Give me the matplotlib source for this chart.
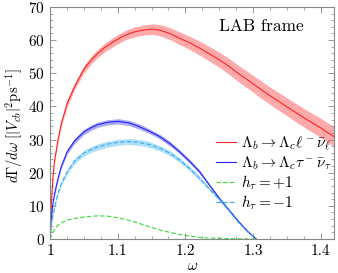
import numpy as np
import matplotlib
matplotlib.use("Agg")
import matplotlib.pyplot as plt
from matplotlib.ticker import MultipleLocator

# ------------ Data ----------------------------------------
w_lep = [1.0, 1.002, 1.0044, 1.0069, 1.0118, 1.0167, 1.0255, 1.0363, 1.05, 1.0608,
         1.0706, 1.081, 1.096, 1.110, 1.125, 1.140, 1.152, 1.162, 1.177, 1.191,
         1.206, 1.221, 1.235, 1.25, 1.265, 1.279, 1.294, 1.309, 1.323, 1.338,
         1.353, 1.368, 1.382, 1.397, 1.42]
rate_lep = [0, 10.8, 18.8, 23.9, 29.9, 34.9, 41.0, 46.0, 51.2, 54.0,
            56.0, 57.8, 59.8, 61.4, 62.5, 63.1, 63.3, 63.0, 62.0, 60.6,
            59.2, 57.6, 55.9, 54.1, 52.0, 49.8, 47.7, 45.5, 43.5, 41.5,
            39.5, 37.5, 35.7, 33.9, 30.8]
err_lep = [0.3, 0.5, 0.6, 0.7, 0.8, 0.9, 1.0, 1.0, 1.1, 1.2,
           1.2, 1.3, 1.4, 1.4, 1.5, 1.5, 1.6, 1.7, 1.8, 1.9,
           2.0, 2.1, 2.2, 2.3, 2.4, 2.5, 2.5, 2.6, 2.6, 2.7,
           2.7, 2.8, 2.8, 2.9, 3.0]

w_tau = [1.0, 1.002, 1.0044, 1.0069, 1.0118, 1.0167, 1.0255, 1.0363, 1.05, 1.0608,
         1.0706, 1.085, 1.101, 1.117, 1.132, 1.147, 1.162, 1.177, 1.191, 1.206,
         1.221, 1.235, 1.25, 1.265, 1.279, 1.294, 1.305]
rate_tau = [0, 6.7, 10.8, 13.8, 18.3, 21.9, 26.4, 29.6, 32.3, 33.6,
            34.5, 35.2, 35.5, 35.0, 33.9, 32.5, 30.9, 28.8, 26.4, 23.5,
            20.3, 16.4, 12.3, 8.6, 5.2, 1.9, 0]
err_tau = [0.1, 0.3, 0.4, 0.5, 0.6, 0.6, 0.7, 0.8, 0.8, 0.8,
           0.8, 0.8, 0.8, 0.8, 0.8, 0.7, 0.7, 0.7, 0.6, 0.6,
           0.5, 0.4, 0.4, 0.3, 0.2, 0.1, 0]
rate_hm = [0, 4.7, 7.3, 9.8, 13.8, 16.8, 20.3, 23.5, 25.9, 27.0,
           27.8, 28.6, 29.2, 29.4, 29.1, 28.5, 27.4, 25.9, 23.9, 21.3,
           18.3, 15.2, 12.0, 8.4, 4.9, 1.7, 0]
err_hm = [0.1, 0.3, 0.4, 0.5, 0.6, 0.7, 0.8, 0.8, 0.9, 0.9,
          0.9, 0.9, 0.9, 0.9, 0.9, 0.9, 0.8, 0.8, 0.7, 0.7,
          0.6, 0.5, 0.4, 0.3, 0.2, 0.1, 0]
rate_hp = [0, 1.2, 2.2, 2.9, 4.2, 4.9, 5.7, 6.2, 6.6, 6.85,
           7.0, 6.9, 6.4, 5.6, 4.7, 3.7, 2.7, 2.0, 1.4, 0.9,
           0.5, 0.3, 0.2, 0.1, 0.05, 0.02, 0]

labels = [r'$\Lambda_b\rightarrow\Lambda_c\ell^-\bar{\nu}_\ell$',
          r'$\Lambda_b\rightarrow\Lambda_c\tau^-\bar{\nu}_\tau$',
          r'$h_\tau=+1$', r'$h_\tau=-1$']

plt.rcParams['font.family'] = 'cmr10'
plt.rcParams['mathtext.fontset'] = 'cm'
plt.rcParams['axes.formatter.use_mathtext'] = True

fig = plt.figure(figsize=(3.38, 2.73), dpi=100)
ax = fig.add_axes([0.148, 0.1245, 0.841, 0.850])

w_lep = np.array(w_lep); rate_lep = np.array(rate_lep); err_lep = np.array(err_lep)
w_tau = np.array(w_tau); rate_tau = np.array(rate_tau); err_tau = np.array(err_tau)
rate_hm = np.array(rate_hm); err_hm = np.array(err_hm); rate_hp = np.array(rate_hp)

# bands
ax.fill_between(w_lep, rate_lep - err_lep, rate_lep + err_lep, color='#ffaaaa', lw=0)
ax.fill_between(w_tau, rate_tau - err_tau, rate_tau + err_tau, color='#aaaaf5', lw=0)
ax.fill_between(w_tau, rate_hm - err_hm, rate_hm + err_hm, color='#b0e0f8', lw=0)

# lines
ax.plot(w_lep, rate_lep, color='#ff2222', lw=0.8, label=labels[0])
ax.plot(w_tau, rate_tau, color='#2222ff', lw=0.8, label=labels[1])
ax.plot(w_tau, rate_hp, color='#33dd33', lw=0.8, ls=(0, (4, 2)), label=labels[2])
ax.plot(w_tau, rate_hm, color='#33aaee', lw=0.8, ls=(0, (4, 2)), label=labels[3])

ax.set_xlim(1, 1.42)
ax.set_ylim(0, 70)
ax.xaxis.set_minor_locator(MultipleLocator(0.025))
ax.yaxis.set_major_locator(MultipleLocator(10))
ax.yaxis.set_minor_locator(MultipleLocator(2))
ax.set_xticks([1, 1.1, 1.2, 1.3, 1.4])
ax.set_xticklabels(['1', '1.1', '1.2', '1.3', '1.4'])

for s in ax.spines.values():
    s.set_color('#888888')
    s.set_linewidth(0.8)
ax.tick_params(which='both', direction='in', top=True, right=True, color='#888888', labelsize=11)
ax.tick_params(which='major', length=4, width=0.6)
ax.tick_params(which='minor', length=2.5, width=0.5)
ax.tick_params(axis='x', pad=4)

ax.set_xlabel(r'$\omega$', fontsize=11, labelpad=1)
ax.set_ylabel(r'$d\Gamma/d\omega\ [|V_{cb}|^2\mathrm{ps}^{-1}]$', fontsize=10.5)
ax.yaxis.set_label_coords(-0.088, 0.49)

ax.text(0.743, 0.915, 'LAB frame', transform=ax.transAxes, fontsize=12.5,
        ha='center', va='center')

ax.legend(loc='upper left', bbox_to_anchor=(0.585, 0.45), frameon=False, fontsize=11,
          handlelength=1.3, handletextpad=0.3, labelspacing=0.1, borderpad=0,
          borderaxespad=0)

fig.savefig('out.png', dpi=100)
